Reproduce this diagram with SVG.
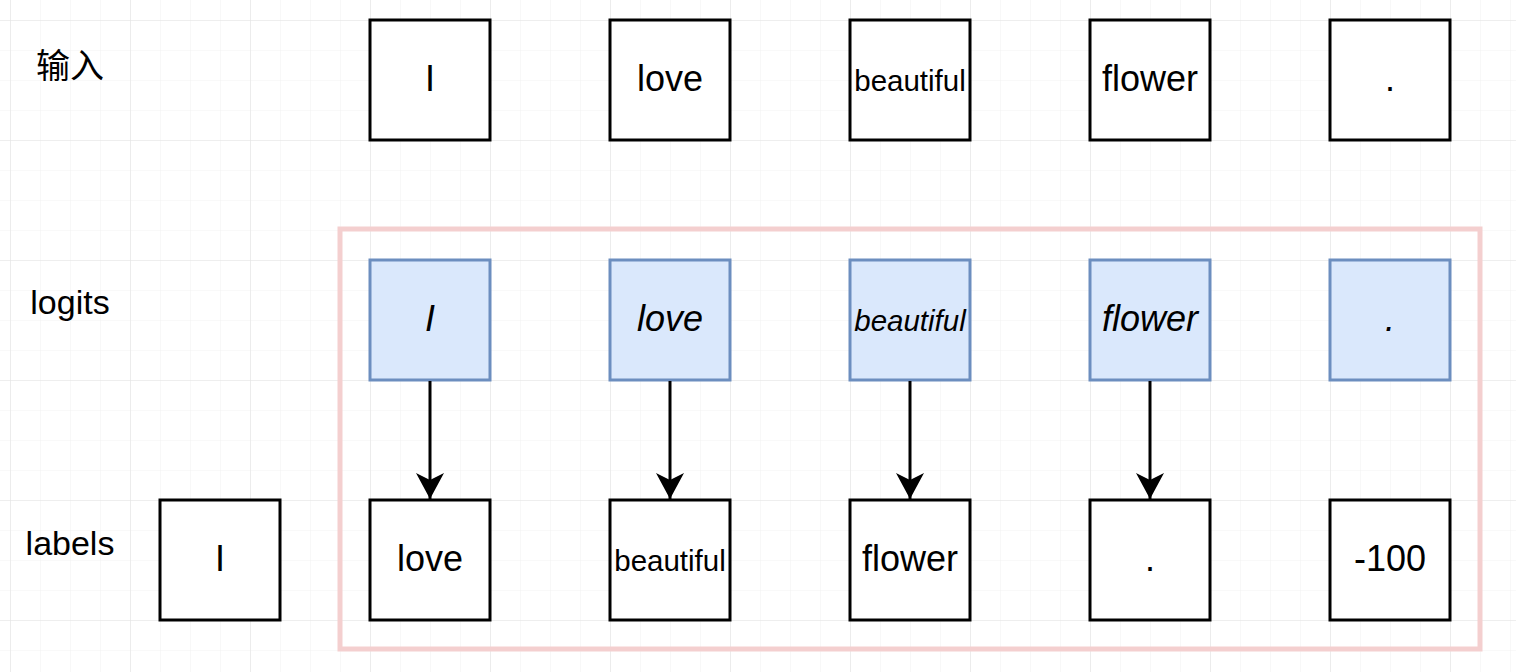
<svg xmlns="http://www.w3.org/2000/svg" width="1516" height="672" viewBox="0 0 1516 672">
<defs>
<pattern id="minor" x="10" y="20" width="30" height="30" patternUnits="userSpaceOnUse">
<path d="M0,0 H30 M0,0 V30" fill="none" stroke="#f3f3f3" stroke-width="1.2"/>
</pattern>
<pattern id="major" x="10" y="20" width="120" height="120" patternUnits="userSpaceOnUse">
<path d="M0,0 H120 M0,0 V120" fill="none" stroke="#e4e4e4" stroke-width="1.2"/>
</pattern>
<marker id="arrow" viewBox="0 0 30 30" refX="28" refY="15" markerWidth="30" markerHeight="30" markerUnits="userSpaceOnUse" orient="auto">
<path d="M28,15 L2,1 L9,15 L2,29 Z" fill="#000"/>
</marker>
<style>
.box{fill:#fff;stroke:#000;stroke-width:3}
.logit{fill:#dae8fc;stroke:#6c8ebf;stroke-width:3}
.t{font-family:"Liberation Sans",Arial,sans-serif;font-size:36px;text-anchor:middle;fill:#000}
.s{font-size:29.5px}
.i{font-style:italic}
.lbl{font-family:"Liberation Sans","Noto Sans CJK SC",sans-serif;font-size:34px;text-anchor:middle;fill:#000}
.edge{stroke:#000;stroke-width:3;fill:none;marker-end:url(#arrow)}
</style>
</defs>
<rect width="1516" height="672" fill="#fff"/>
<rect width="1516" height="672" fill="url(#minor)"/>
<rect width="1516" height="672" fill="url(#major)"/>

<g id="frame"><rect x="340" y="229" width="1140" height="420" fill="none" stroke="#f4cfcf" stroke-width="5"/></g>

<g id="row-labels">
<text class="lbl" x="70" y="78">输入</text>
<text class="lbl" x="70" y="314">logits</text>
<text class="lbl" x="70" y="555">labels</text>
</g>

<g id="in-I"><rect class="box" x="370" y="20" width="120" height="120"/><text class="t" x="430" y="91">I</text></g>
<g id="in-love"><rect class="box" x="610" y="20" width="120" height="120"/><text class="t" x="670" y="91">love</text></g>
<g id="in-beautiful"><rect class="box" x="850" y="20" width="120" height="120"/><text class="t s" x="910" y="91">beautiful</text></g>
<g id="in-flower"><rect class="box" x="1090" y="20" width="120" height="120"/><text class="t" x="1150" y="91">flower</text></g>
<g id="in-dot"><rect class="box" x="1330" y="20" width="120" height="120"/><text class="t" x="1390" y="91">.</text></g>

<g id="lg-I"><rect class="logit" x="370" y="260" width="120" height="120"/><text class="t i" x="430" y="331">I</text></g>
<g id="lg-love"><rect class="logit" x="610" y="260" width="120" height="120"/><text class="t i" x="670" y="331">love</text></g>
<g id="lg-beautiful"><rect class="logit" x="850" y="260" width="120" height="120"/><text class="t s i" x="910" y="331">beautiful</text></g>
<g id="lg-flower"><rect class="logit" x="1090" y="260" width="120" height="120"/><text class="t i" x="1150" y="331">flower</text></g>
<g id="lg-dot"><rect class="logit" x="1330" y="260" width="120" height="120"/><text class="t i" x="1390" y="331">.</text></g>

<g id="lb-I"><rect class="box" x="160" y="500" width="120" height="120"/><text class="t" x="220" y="571">I</text></g>
<g id="lb-love"><rect class="box" x="370" y="500" width="120" height="120"/><text class="t" x="430" y="571">love</text></g>
<g id="lb-beautiful"><rect class="box" x="610" y="500" width="120" height="120"/><text class="t s" x="670" y="571">beautiful</text></g>
<g id="lb-flower"><rect class="box" x="850" y="500" width="120" height="120"/><text class="t" x="910" y="571">flower</text></g>
<g id="lb-dot"><rect class="box" x="1090" y="500" width="120" height="120"/><text class="t" x="1150" y="571">.</text></g>
<g id="lb-100"><rect class="box" x="1330" y="500" width="120" height="120"/><text class="t" x="1390" y="571">-100</text></g>

<g id="connectors">
<line class="edge" x1="430" y1="381" x2="430" y2="499"/>
<line class="edge" x1="670" y1="381" x2="670" y2="499"/>
<line class="edge" x1="910" y1="381" x2="910" y2="499"/>
<line class="edge" x1="1150" y1="381" x2="1150" y2="499"/>
</g>
</svg>
